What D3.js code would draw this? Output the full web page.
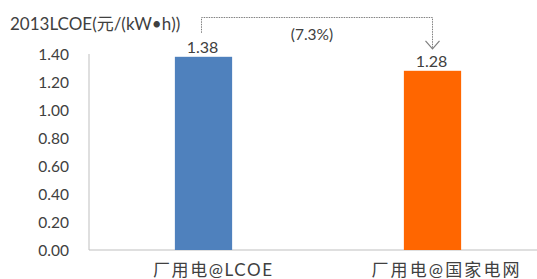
<!DOCTYPE html>
<html>
<head>
<meta charset="utf-8">
<script src="https://cdn.jsdelivr.net/npm/d3@7/dist/d3.min.js"></script>
<style>
  html, body { margin: 0; padding: 0; background: #fff; }
  svg { display: block; }
  text { font-family: Lato, "Noto Sans CJK SC", sans-serif; fill: #404040; }
</style>
</head>
<body>
<svg id="chart"></svg>
<script>
// Data
const categories = ["厂用电@LCOE", "厂用电@国家电网"];
const values = [1.38, 1.28];
const barColors = ["#4F81BD", "#FF6600"];
const yTicks = [0, 0.2, 0.4, 0.6, 0.8, 1.0, 1.2, 1.4];
const title = "2013LCOE(元/(kW•h))";
const changeLabel = "(7.3%)";

const W = 537, H = 279;
const margin = { top: 54, right: -10, bottom: 29, left: 89 };

const svg = d3.select("#chart").attr("width", W).attr("height", H);

const x = d3.scaleBand().domain(categories).range([margin.left, W - margin.right]).padding(0);
const y = d3.scaleLinear().domain([0, 1.4]).range([H - margin.bottom, margin.top]);
const barW = x.bandwidth() * 0.25;
const cx = c => x(c) + x.bandwidth() / 2;

// Axis lines
svg.append("line")
  .attr("x1", margin.left).attr("x2", margin.left)
  .attr("y1", y(1.4)).attr("y2", y(0))
  .attr("stroke", "#bfbfbf").attr("stroke-width", 1);
svg.append("line")
  .attr("x1", margin.left).attr("x2", W)
  .attr("y1", y(0)).attr("y2", y(0))
  .attr("stroke", "#bfbfbf").attr("stroke-width", 1);

// Y tick labels
svg.selectAll(".ytick").data(yTicks).enter().append("text")
  .attr("class", "ytick")
  .attr("x", 69).attr("y", d => y(d))
  .attr("dy", "0.36em")
  .attr("text-anchor", "end")
  .style("font-size", "15.5px")
  .text(d => d.toFixed(2));

// Bars
svg.selectAll(".bar").data(values).enter().append("rect")
  .attr("class", "bar")
  .attr("x", (d, i) => cx(categories[i]) - barW / 2)
  .attr("width", barW)
  .attr("y", d => y(d))
  .attr("height", d => y(0) - y(d))
  .attr("fill", (d, i) => barColors[i]);

// Value labels
svg.selectAll(".val").data(values).enter().append("text")
  .attr("class", "val")
  .attr("x", (d, i) => cx(categories[i]) - 1)
  .attr("y", d => y(d) - 4)
  .attr("text-anchor", "middle")
  .style("font-size", "16px")
  .text(d => d.toFixed(2));

// Category labels
svg.selectAll(".cat").data(categories).enter().append("text")
  .attr("class", "cat")
  .attr("x", (d, i) => cx(d) + (i === 0 ? 9 : 13))
  .attr("y", 276)
  .attr("text-anchor", "middle")
  .attr("textLength", (d, i) => i === 0 ? 119 : 148)
  .attr("lengthAdjust", "spacing")
  .style("font-size", "17px")
  .text(d => d);

// Title
svg.append("text")
  .attr("x", 10).attr("y", 30)
  .style("font-size", "17px")
  .text(title);

// Change connector (dotted bracket with arrow)
const yTop = 17.5;
const x0 = cx(categories[0]) - 2, x1 = cx(categories[1]);
const tipY = y(values[1]) - 22;
svg.append("path")
  .attr("d", `M${x0},${y(values[0]) - 24}V${yTop}H${x1}V${tipY}`)
  .attr("fill", "none")
  .attr("stroke", "#7f7f7f")
  .attr("stroke-width", 1)
  .attr("stroke-dasharray", "1.5,1");
svg.append("path")
  .attr("d", `M${x1 - 7},${tipY - 8}L${x1},${tipY}L${x1 + 7},${tipY - 8}`)
  .attr("fill", "none")
  .attr("stroke", "#7f7f7f")
  .attr("stroke-width", 1.2);

svg.append("text")
  .attr("x", (x0 + x1) / 2 - 5).attr("y", 40)
  .attr("text-anchor", "middle")
  .style("font-size", "15.5px")
  .text(changeLabel);
</script>
</body>
</html>
